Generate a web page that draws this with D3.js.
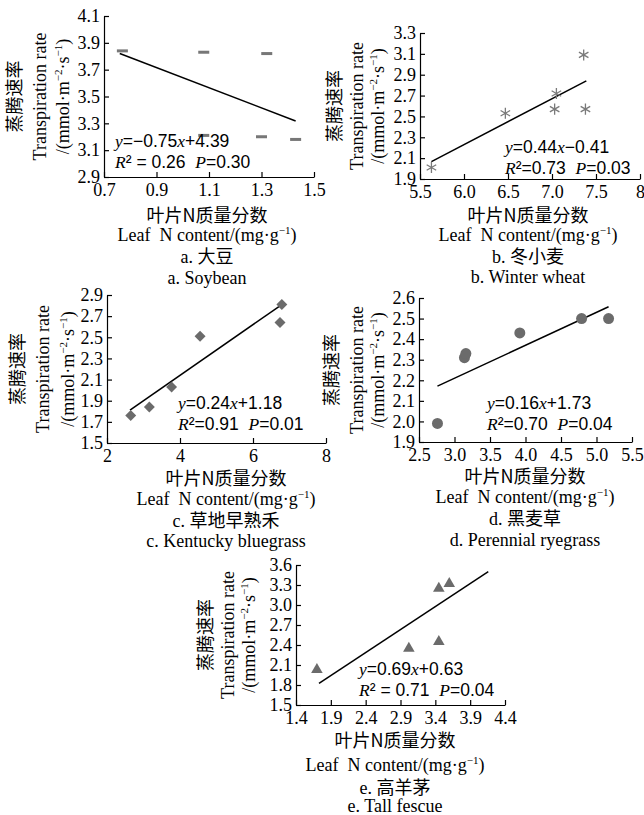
<!DOCTYPE html>
<html lang="zh">
<head>
<meta charset="UTF-8" />
<title>Transpiration rate vs leaf N content</title>
<script src="https://d3js.org/d3.v7.min.js"></script>
<style>
  body { margin: 0; background: #fff; }
  svg { display: block; }
  text { font-family: "Liberation Serif", "Times New Roman", serif; fill: #000; white-space: pre; }
  .cn { font-family: "Noto Sans CJK SC", sans-serif; }
  .sans { font-family: "Liberation Sans", Arial, sans-serif; }
  .axis path, .axis line { stroke: #000; stroke-width: 1.2; }
  .fit { fill: none; stroke: #000; stroke-width: 1.5; }
</style>
</head>
<body>
<div id="chart"></div>
<script>
// leaf N content (x) and transpiration rate (y) for each species
const soyN = [0.77, 1.08, 1.32, 1.08, 1.30, 1.43];
const soyE = [3.84, 3.83, 3.82, 3.21, 3.20, 3.18];
const wheatN = [5.63, 6.47, 7.05, 7.03, 7.36, 7.38];
const wheatE = [2.01, 2.53, 2.72, 2.57, 3.09, 2.57];
const bluegrassN = [2.65, 3.16, 3.77, 4.55, 6.79, 6.74];
const bluegrassE = [1.76, 1.84, 2.03, 2.51, 2.81, 2.64];
const ryegrassN = [2.76, 3.14, 3.16, 3.92, 4.79, 5.17];
const ryegrassE = [1.99, 2.31, 2.33, 2.43, 2.50, 2.50];
const fescueN = [1.70, 3.02, 3.45, 3.45, 3.60];
const fescueE = [2.03, 2.35, 2.45, 3.25, 3.32];

// regression results
const fitSlope = [-0.75, 0.44, 0.24, 0.16, 0.69];
const fitIntercept = [4.39, -0.41, 1.18, 1.73, 0.63];
const fitR2 = ["0.26", "0.73", "0.91", "0.70", "0.71"];
const fitP = ["0.30", "0.03", "0.01", "0.04", "0.04"];
const fitFrom = [0.76, 5.63, 2.63, 2.76, 1.73];
const fitTo = [1.43, 7.39, 6.77, 5.17, 4.16];

// tick labels
const soyXTicks = ["0.7", "0.9", "1.1", "1.3", "1.5"];
const soyYTicks = ["2.9", "3.1", "3.3", "3.5", "3.7", "3.9", "4.1"];
const wheatXTicks = ["5.5", "6.0", "6.5", "7.0", "7.5", "8"];
const wheatYTicks = ["1.9", "2.1", "2.3", "2.5", "2.7", "2.9", "3.1", "3.3"];
const bluegrassXTicks = ["2", "4", "6", "8"];
const bluegrassYTicks = ["1.5", "1.7", "1.9", "2.1", "2.3", "2.5", "2.7", "2.9"];
const ryegrassXTicks = ["2.5", "3.0", "3.5", "4.0", "4.5", "5.0", "5.5"];
const ryegrassYTicks = ["1.9", "2.0", "2.1", "2.2", "2.3", "2.4", "2.5", "2.6"];
const fescueXTicks = ["1.4", "1.9", "2.4", "2.9", "3.4", "3.9", "4.4"];
const fescueYTicks = ["1.5", "1.8", "2.1", "2.4", "2.7", "3.0", "3.3", "3.6"];

const panelCn = ["a. 大豆", "b. 冬小麦", "c. 草地早熟禾", "d. 黑麦草", "e. 高羊茅"];
const panelEn = ["a. Soybean", "b. Winter wheat", "c. Kentucky bluegrass", "d. Perennial ryegrass", "e. Tall fescue"];

const width = 644, height = 815;
const svg = d3.select("#chart").append("svg")
  .attr("width", width).attr("height", height);

// layout of each panel
const panels = [
  { xs: soyN, ys: soyE, xt: soyXTicks, yt: soyYTicks, l: 104, r: 314, t: 16, b: 177,
    mark: "dash", eqX: 115, eqY: 147, spaced: true, titleX: 207, lines: [38, 58, 79, 101], ycols: [-89, -64, -41] },
  { xs: wheatN, ys: wheatE, xt: wheatXTicks, yt: wheatYTicks, l: 420, r: 640, t: 33, b: 179,
    mark: "asterisk", eqX: 505, eqY: 153, spaced: false, titleX: 528, lines: [36, 56, 77, 98], ycols: [-85, -63, -42] },
  { xs: bluegrassN, ys: bluegrassE, xt: bluegrassXTicks, yt: bluegrassYTicks, l: 107, r: 326, t: 295, b: 443,
    mark: "diamond", eqX: 178, eqY: 409, spaced: false, titleX: 226, lines: [35, 56, 77, 98], ycols: [-89, -64, -39] },
  { xs: ryegrassN, ys: ryegrassE, xt: ryegrassXTicks, yt: ryegrassYTicks, l: 419, r: 632, t: 298, b: 442,
    mark: "circle", eqX: 487, eqY: 409, spaced: false, titleX: 525, lines: [34, 55, 76, 98], ycols: [-87, -62, -41] },
  { xs: fescueN, ys: fescueE, xt: fescueXTicks, yt: fescueYTicks, l: 296, r: 505, t: 565, b: 705,
    mark: "triangle", eqX: 359, eqY: 675, spaced: true, titleX: 395, lines: [35, 60, 82, 101], ycols: [-90, -68, -47] }
];

function addRuns(text, runs) {
  runs.forEach(([s, cls, dy, size]) => {
    const ts = text.append("tspan").text(s);
    if (cls === "i") ts.attr("font-style", "italic");
    else if (cls) ts.attr("class", cls);
    if (dy) ts.attr("dy", dy);
    if (size) ts.attr("font-size", size);
  });
  return text;
}

panels.forEach((p, i) => {
  const xv = p.xt.map(Number), yv = p.yt.map(Number);
  const x = d3.scaleLinear().domain([xv[0], xv[xv.length - 1]]).range([p.l, p.r]);
  const y = d3.scaleLinear().domain([yv[0], yv[yv.length - 1]]).range([p.b, p.t]);
  const g = svg.append("g");

  g.append("g").attr("class", "axis")
    .attr("transform", `translate(0,${p.b})`)
    .call(d3.axisBottom(x).tickValues(xv).tickFormat((d, k) => p.xt[k])
      .tickSizeInner(-5).tickSizeOuter(0).tickPadding(6));
  g.append("g").attr("class", "axis")
    .attr("transform", `translate(${p.l},0)`)
    .call(d3.axisLeft(y).tickValues(yv).tickFormat((d, k) => p.yt[k])
      .tickSizeInner(-5).tickSizeOuter(0).tickPadding(4));
  g.selectAll(".axis").attr("font-family", null).attr("font-size", 18);

  // regression line
  const fit = d => fitSlope[i] * d + fitIntercept[i];
  g.append("line").attr("class", "fit")
    .attr("x1", x(fitFrom[i])).attr("y1", y(fit(fitFrom[i])))
    .attr("x2", x(fitTo[i])).attr("y2", y(fit(fitTo[i])));

  // points
  const pts = p.xs.map((v, k) => [v, p.ys[k]]);
  const pg = g.append("g");
  if (p.mark === "dash") {
    pg.selectAll("rect").data(pts).join("rect")
      .attr("x", d => x(d[0]) - 5.5).attr("y", d => y(d[1]) - 1.5)
      .attr("width", 11).attr("height", 3).attr("fill", "#777");
  } else {
    const types = { asterisk: [d3.symbolAsterisk, 85], diamond: [d3.symbolSquare, 60],
      circle: [d3.symbolCircle, 95], triangle: [d3.symbolTriangle, 58] };
    const [type, size] = types[p.mark];
    const sym = d3.symbol().type(type).size(size);
    pg.selectAll("path").data(pts).join("path")
      .attr("d", sym)
      .attr("transform", d => `translate(${x(d[0])},${y(d[1])})` + (p.mark === "diamond" ? " rotate(45)" : ""))
      .attr("fill", p.mark === "asterisk" ? "none" : "#6b6b6b")
      .attr("stroke", p.mark === "asterisk" ? "#7a7a7a" : "none")
      .attr("stroke-width", 1.3);
  }

  // equation
  const b = fitIntercept[i];
  const eq = g.append("text").attr("x", p.eqX).attr("y", p.eqY).attr("font-size", 17.5);
  addRuns(eq, [["y", "i"], ["=" + (fitSlope[i] < 0 ? "−" : "") + Math.abs(fitSlope[i]).toFixed(2), "sans"],
    ["x", "i"], [(b < 0 ? "−" : "+") + Math.abs(b).toFixed(2), "sans"]]);
  const sep = p.spaced ? " = " : "=";
  const r2 = g.append("text").attr("x", p.eqX).attr("y", p.eqY + 21).attr("font-size", 17.5);
  addRuns(r2, [["R", "i"], ["²" + sep + fitR2[i] + "  ", "sans"], ["P", "i"], ["=" + fitP[i], "sans"]]);

  // y title (three rotated columns)
  const cy = (p.t + p.b) / 2;
  g.append("text").attr("class", "cn")
    .attr("transform", `translate(${p.l + p.ycols[0]},${cy}) rotate(-90)`)
    .attr("text-anchor", "middle").attr("dy", "0.36em").attr("font-size", 18)
    .text("蒸腾速率");
  g.append("text")
    .attr("transform", `translate(${p.l + p.ycols[1]},${cy}) rotate(-90)`)
    .attr("text-anchor", "middle").attr("dy", "0.33em").attr("font-size", 18)
    .text("Transpiration rate");
  const unit = g.append("text")
    .attr("transform", `translate(${p.l + p.ycols[2]},${cy}) rotate(-90)`)
    .attr("text-anchor", "middle").attr("font-size", 18);
  addRuns(unit, [["/(mmol·m", "", "0.33em"], ["−2", "", -7, 11], ["·s", "", 7], ["−1", "", -7, 11], [")", "", 7]]);

  // x titles
  const tx = p.titleX;
  g.append("text").attr("class", "cn").attr("x", tx).attr("y", p.b + p.lines[0] + 7)
    .attr("text-anchor", "middle").attr("font-size", 18).text("叶片N质量分数");
  const leaf = g.append("text").attr("x", tx).attr("y", p.b + p.lines[1] + 6)
    .attr("text-anchor", "middle").attr("font-size", 18);
  addRuns(leaf, [["Leaf  N content/(mg·g"], ["−1", "", -7, 11], [")", "", 7]]);
  const cn = g.append("text").attr("x", tx).attr("y", p.b + p.lines[2] + 7)
    .attr("text-anchor", "middle").attr("font-size", 18);
  const parts = panelCn[i].split(" ");
  addRuns(cn, [[parts[0] + " "], [parts[1], "cn"]]);
  g.append("text").attr("x", tx).attr("y", p.b + p.lines[3] + 6)
    .attr("text-anchor", "middle").attr("font-size", 18).text(panelEn[i]);
});
</script>
</body>
</html>
